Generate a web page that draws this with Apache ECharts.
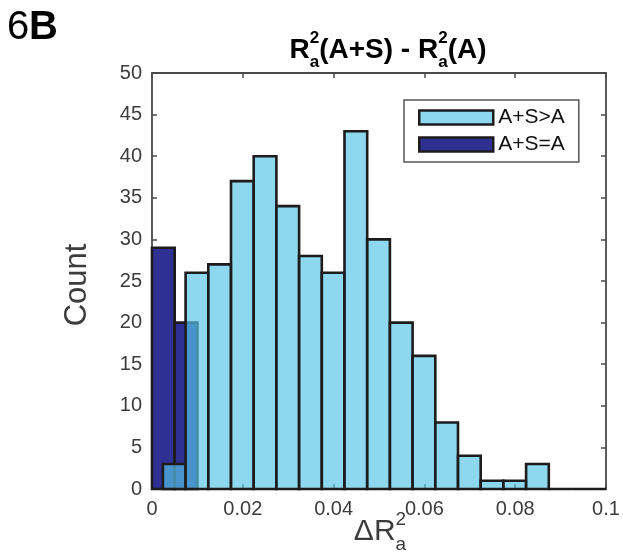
<!DOCTYPE html>
<html><head><meta charset="utf-8">
<script src="https://cdn.jsdelivr.net/npm/echarts@6/dist/echarts.min.js"></script>
<style>html,body{margin:0;padding:0;background:#fff}#c{width:623px;height:555px}</style>
</head><body><div id="c"></div>
<script>
// ---- data ----
const seriesNames = ['A+S>A', 'A+S=A'];
const binWidth = 0.005;
const lightStart = 0.0024;
const lightCounts = [3, 26, 27, 37, 40, 34, 28, 26, 43, 30, 20, 16, 8, 4, 1, 1, 3, 0, 0, 0];
const darkStart = 0;
const darkCounts = [29, 20];
const xMin = 0, xMax = 0.1, xStep = 0.02;
const yMin = 0, yMax = 50, yStep = 5;

const FONT = '"Liberation Sans", Arial, Helvetica, sans-serif';
const AXIS_COLOR = '#4a4a4a';
const LABEL_COLOR = '#3c3c3c';
const EDGE = '#1e1b1c';

function bins(start, counts) {
  return counts.map((c, i) => [start + i * binWidth, start + (i + 1) * binWidth, c]);
}

function renderBar(params, api) {
  const p0 = api.coord([api.value(0), api.value(2)]);
  const p1 = api.coord([api.value(1), 0]);
  const cs = params.coordSys;
  const shape = echarts.graphic.clipRectByRect(
    { x: p0[0], y: p0[1], width: p1[0] - p0[0], height: p1[1] - p0[1] },
    { x: cs.x, y: cs.y, width: cs.width, height: cs.height });
  if (!shape) return;
  return { type: 'rect', shape: shape, style: api.style() };
}

function buildMath(parts, cx, midY, color) {
  const ctx = document.createElement('canvas').getContext('2d');
  let x = 0, lastStart = 0;
  const els = [];
  parts.forEach(p => {
    ctx.font = (p.bold ? 'bold ' : '') + p.size + 'px ' + FONT;
    const w = ctx.measureText(p.t).width;
    let px;
    if (p.stack) { px = lastStart; x = Math.max(x, lastStart + w); }
    else { px = x; lastStart = x; x += w; }
    els.push({ type: 'text', x: px, y: midY + (p.dy || 0), z: 10,
      style: { text: p.t, fontSize: p.size, fontWeight: p.bold ? 'bold' : 'normal',
               fontFamily: FONT, fill: color, verticalAlign: 'middle', align: 'left' } });
  });
  const off = cx - x / 2;
  els.forEach(e => { e.x += off; });
  return els;
}

const TS = 28, TSS = 17;
const titleParts = [
  { t: 'R', size: TS, bold: true },
  { t: '2', size: TSS, bold: true, dy: -12 },
  { t: 'a', size: TSS, bold: true, dy: 12, stack: true },
  { t: '(A+S) - R', size: TS, bold: true },
  { t: '2', size: TSS, bold: true, dy: -12 },
  { t: 'a', size: TSS, bold: true, dy: 12, stack: true },
  { t: '(A)', size: TS, bold: true }
];
const XS = 30, XSS = 19;
const xNameParts = [
  { t: '\u0394R', size: XS },
  { t: '2', size: XSS, dy: -12 },
  { t: 'a', size: XSS, dy: 13, stack: true }
];

const chart = echarts.init(document.getElementById('c'), null, { renderer: 'canvas' });

function axisCommon(pos, showLabel) {
  return {
    position: pos,
    axisLine: { show: true, onZero: false, lineStyle: { color: AXIS_COLOR, width: 1.8 } },
    axisTick: { show: true, inside: true, length: 5, lineStyle: { color: AXIS_COLOR, width: 1.5 } },
    axisLabel: { show: showLabel, color: LABEL_COLOR, fontSize: 20, fontFamily: FONT },
    splitLine: { show: false }
  };
}

const option = {
  backgroundColor: '#fff',
  animation: false,
  grid: { left: 152, right: 17, top: 73, bottom: 66 },
  xAxis: [
    Object.assign({ type: 'value', min: xMin, max: xMax, interval: xStep }, axisCommon('bottom', true),
      { axisLabel: { show: true, color: LABEL_COLOR, fontSize: 20, fontFamily: FONT, margin: 10 } }),
    Object.assign({ type: 'value', min: xMin, max: xMax, interval: xStep }, axisCommon('top', false))
  ],
  yAxis: [
    Object.assign({ type: 'value', min: yMin, max: yMax, interval: yStep }, axisCommon('left', true),
      { axisLabel: { show: true, color: LABEL_COLOR, fontSize: 20, fontFamily: FONT, margin: 10 } }),
    Object.assign({ type: 'value', min: yMin, max: yMax, interval: yStep }, axisCommon('right', false))
  ],
  legend: {
    orient: 'vertical', left: 404, top: 100,
    padding: [7, 14, 7, 14],
    itemWidth: 74, itemHeight: 14, itemGap: 6,
    icon: 'rect',
    borderColor: '#555', borderWidth: 1.5, backgroundColor: '#fff',
    textStyle: { fontSize: 21, fontFamily: FONT, color: '#111', lineHeight: 14 },
    data: [
      { name: seriesNames[0], itemStyle: { color: 'rgb(141,215,239)', borderColor: EDGE, borderWidth: 2.5 } },
      { name: seriesNames[1], itemStyle: { color: '#2e3192', borderColor: EDGE, borderWidth: 2.5 } }
    ]
  },
  series: [
    {
      name: seriesNames[1], type: 'custom', renderItem: renderBar,
      xAxisIndex: 0, yAxisIndex: 0,
      encode: { x: [0, 1], y: 2 },
      itemStyle: { color: '#2e3192', borderColor: EDGE, borderWidth: 2.6 },
      data: bins(darkStart, darkCounts)
    },
    {
      name: seriesNames[0], type: 'custom', renderItem: renderBar,
      xAxisIndex: 0, yAxisIndex: 0,
      encode: { x: [0, 1], y: 2 },
      itemStyle: { color: 'rgba(87,196,231,0.68)', borderColor: EDGE, borderWidth: 2.6 },
      data: bins(lightStart, lightCounts)
    }
  ],
  graphic: [
    { type: 'text', left: 7, top: 8, style: { text: '6', fontSize: 40, fontFamily: FONT, fill: '#000' } },
    { type: 'text', left: 29, top: 8, style: { text: 'B', fontSize: 40, fontWeight: 'bold', fontFamily: FONT, fill: '#000' } },
    { type: 'text', x: 77, y: 285, rotation: Math.PI / 2, z: 10,
      style: { text: 'Count', fontSize: 31, fontFamily: FONT, fill: LABEL_COLOR, align: 'center', verticalAlign: 'middle' } }
  ].concat(buildMath(titleParts, 388, 50, '#000'), buildMath(xNameParts, 380, 532, LABEL_COLOR))
};
chart.setOption(option);
</script>
</body></html>
